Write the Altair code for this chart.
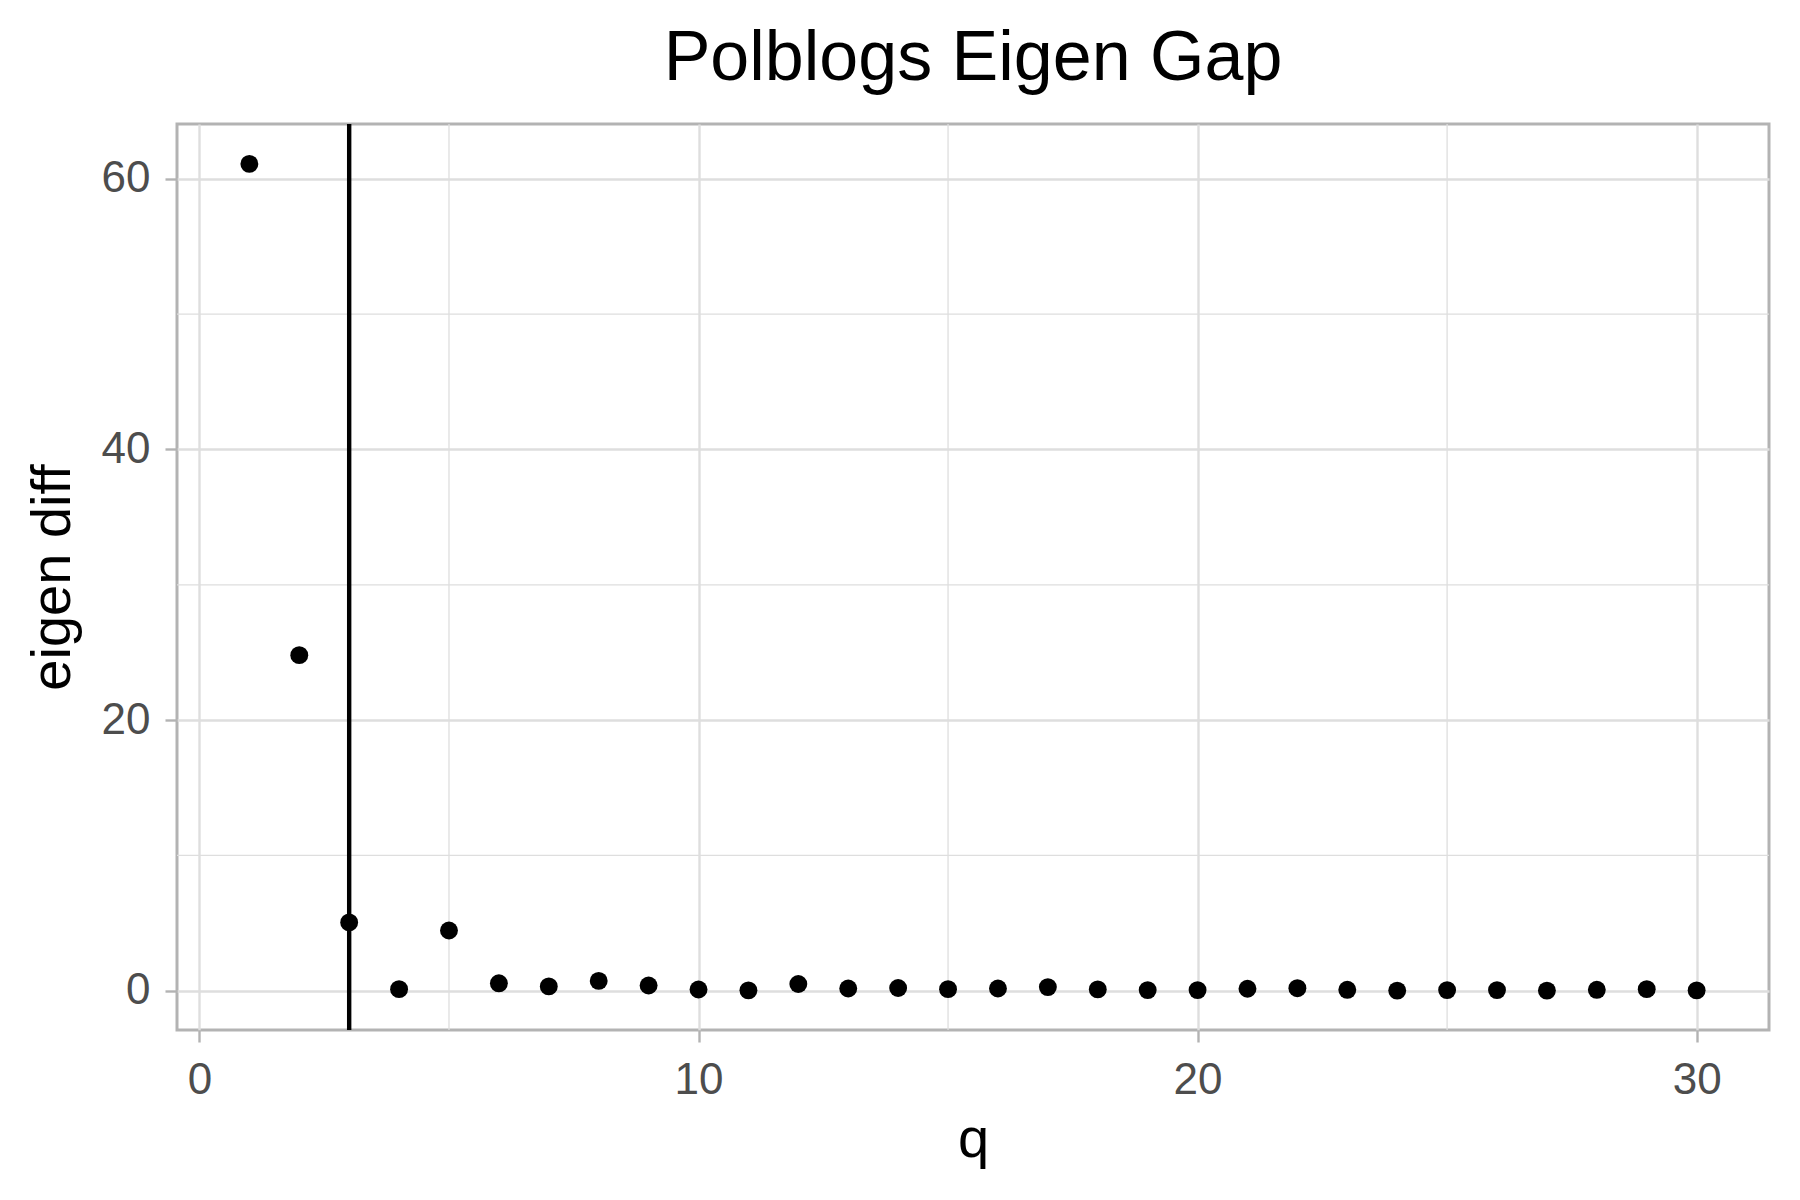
import altair as alt
import pandas as pd

q = list(range(1, 31))
eigen_diff = [61.1, 24.8, 5.05, 0.12, 4.45, 0.55, 0.32, 0.73, 0.39, 0.09,
              0.03, 0.5, 0.17, 0.2, 0.12, 0.17, 0.27, 0.1, 0.05, 0.05,
              0.15, 0.19, 0.07, 0.01, 0.05, 0.05, 0.01, 0.07, 0.12, 0.03]
vline_q = [3]
x_major = [0, 10, 20, 30]
x_minor = [5, 15, 25]
y_major = [0, 20, 40, 60]
y_minor = [10, 30, 50]

df = pd.DataFrame({"q": q, "eigen diff": eigen_diff})
vdf = pd.DataFrame({"q": vline_q})
mx = pd.DataFrame({"v": x_minor})
my = pd.DataFrame({"v": y_minor})

FONT = "Liberation Sans"
xs = alt.Scale(domain=[-0.45, 31.45], nice=False, zero=False)
ys = alt.Scale(domain=[-2.9, 64.05], nice=False, zero=False)

xaxis = alt.Axis(values=x_major, grid=True, gridColor="#dedede", gridWidth=2.4,
                 domain=False, tickColor="#b3b3b3", tickWidth=2.4, tickSize=12,
                 labelColor="#4d4d4d", labelFont=FONT, labelFontSize=44,
                 labelPadding=16, title="q", titleFont=FONT, titleFontSize=56,
                 titleFontWeight="normal", titleColor="black", titlePadding=10)
yaxis = alt.Axis(values=y_major, grid=True, gridColor="#dedede", gridWidth=2.4,
                 domain=False, tickColor="#b3b3b3", tickWidth=2.4, tickSize=12,
                 labelColor="#4d4d4d", labelFont=FONT, labelFontSize=44,
                 labelPadding=15, title="eigen diff", titleFont=FONT, titleFontSize=56,
                 titleFontWeight="normal", titleColor="black", titlePadding=20)

minor_x = alt.Chart(mx).mark_rule(color="#dedede", strokeWidth=1.3).encode(
    x=alt.X("v:Q", scale=xs, axis=xaxis))
minor_y = alt.Chart(my).mark_rule(color="#dedede", strokeWidth=1.3).encode(
    y=alt.Y("v:Q", scale=ys, axis=yaxis))

vline = alt.Chart(vdf).mark_rule(color="black", strokeWidth=4.4).encode(
    x=alt.X("q:Q", scale=xs, axis=xaxis))

points = alt.Chart(df).mark_circle(color="black", size=320, opacity=1).encode(
    x=alt.X("q:Q", scale=xs, axis=xaxis),
    y=alt.Y("eigen diff:Q", scale=ys, axis=yaxis))

chart = alt.layer(minor_x, minor_y, vline, points).properties(
    width=1592,
    height=906,
    title=alt.TitleParams("Polblogs Eigen Gap", font=FONT, fontSize=70,
                          fontWeight="normal", color="black", anchor="middle",
                          frame="group", offset=27),
    autosize=alt.AutoSizeParams(type="none"),
    padding={"left": 169, "top": 116, "right": 10, "bottom": 150},
).configure(background="white").configure_view(stroke="#b3b3b3", strokeWidth=3)

chart.save("out.html", embed_options={"renderer": "svg", "actions": False})
